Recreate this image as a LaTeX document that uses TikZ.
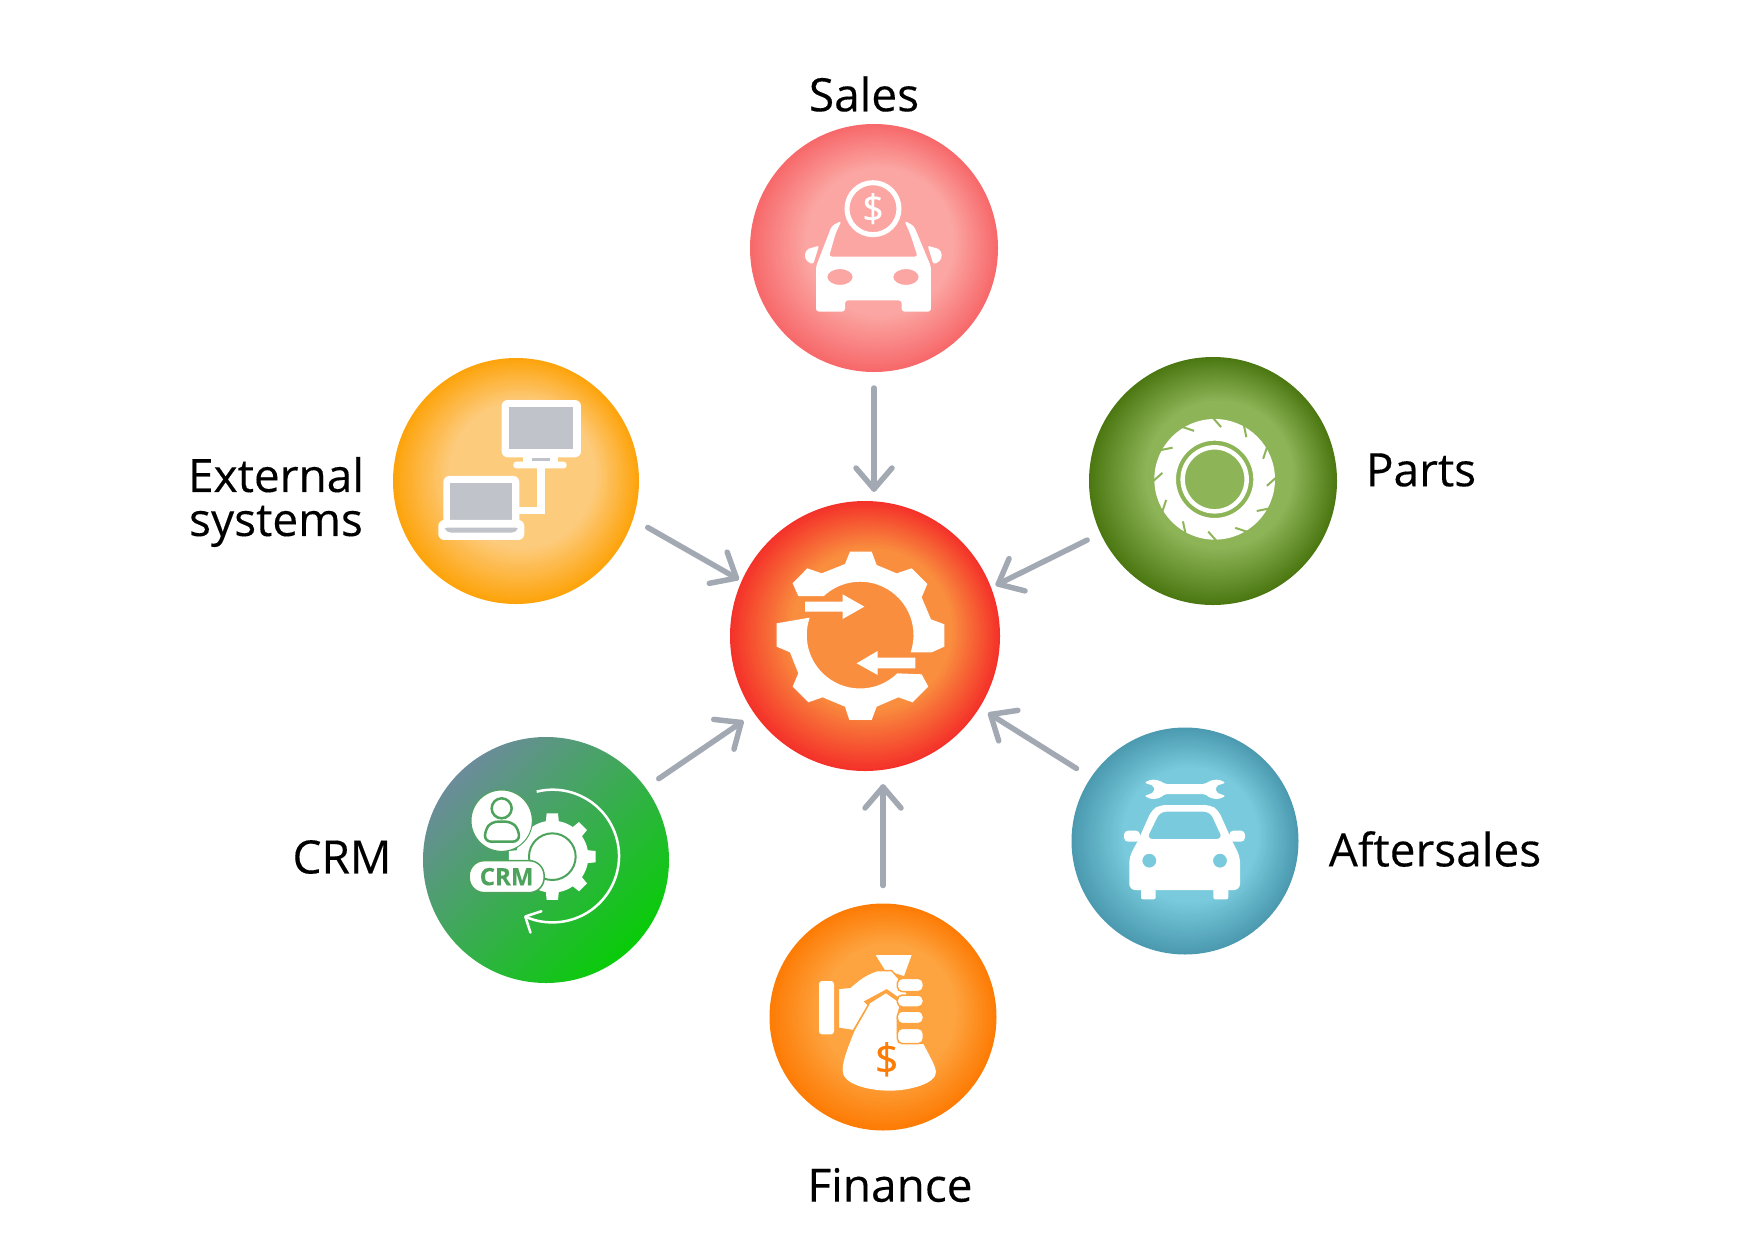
\documentclass[tikz,border=0pt]{standalone}
\usepackage{fontspec}
\setmainfont[FakeBold=0.25]{Open Sans}
\usepackage{tikz}
\usetikzlibrary{arrows.meta,calc}

\definecolor{hubin}{HTML}{F98E3E}
\definecolor{hubout}{HTML}{F4322A}
\definecolor{salesin}{HTML}{FBA6A2}
\definecolor{salesout}{HTML}{F7696B}
\definecolor{extin}{HTML}{FDCB7C}
\definecolor{extout}{HTML}{FDA40C}
\definecolor{partsin}{HTML}{8DB457}
\definecolor{partsout}{HTML}{4C7812}
\definecolor{afterin}{HTML}{79CADC}
\definecolor{afterout}{HTML}{4B9AB0}
\definecolor{finin}{HTML}{FDA33F}
\definecolor{finout}{HTML}{FD7C05}
\definecolor{crmtl}{HTML}{6B8C9A}
\definecolor{crmmid}{HTML}{4DA35C}
\definecolor{crmbr}{HTML}{08CC08}
\definecolor{flowgray}{HTML}{A3A9B3}
\definecolor{screengray}{HTML}{C0C3C9}

% node name, radius, inner colour, outer colour
\newcommand{\bubblerings}[4]{%
  \foreach \s in {96,92,...,0}
    \fill[#4!\s!#3] ($(#1)+({0.05*#2*(1-\s/100)},{-0.05*#2*(1-\s/100)})$) circle[radius={#2*(0.6+0.4*\s/100)}];
}

\pgfdeclarearrow{
  name=vbarb,
  parameters={\the\pgfarrowlength,\the\pgfarrowwidth},
  defaults={length=21pt,width=36pt},
  setup code={\pgfarrowssettipend{3pt}\pgfarrowssetlineend{0pt}\pgfarrowssavethe\pgfarrowlength\pgfarrowssavethe\pgfarrowwidth},
  drawing code={\pgfsetdash{}{0pt}\pgfsetroundcap\pgfsetroundjoin
    \pgfpathmoveto{\pgfqpoint{-\pgfarrowlength}{.5\pgfarrowwidth}}
    \pgfpathlineto{\pgfpointorigin}
    \pgfpathlineto{\pgfqpoint{-\pgfarrowlength}{-.5\pgfarrowwidth}}
    \pgfusepathqstroke}
}

\begin{document}
\begin{tikzpicture}[
  x=1pt,y=-1pt,
  bubble/.style={circle,inner sep=0pt,outer sep=0pt},
  flow/.style={-{vbarb},line width=5.5pt,line cap=round,color=flowgray},
  lab/.style={font=\fontsize{46}{44}\selectfont,text=black,align=center,inner sep=0pt},
  icon/.style={fill=white,draw=none},
  zoomed/.style={shift={#1},x=0.3333pt,y=-0.3333pt},
]
\useasboundingbox (0,0) rectangle (1748,1240);

% === CIRCLES ===
\node[bubble,minimum size=270pt,fill=hubout] (hub) at (865,636) {};
\node[bubble,minimum size=248pt,fill=salesout] (sales) at (874,248) {};
\node[bubble,minimum size=248pt,fill=partsout] (parts) at (1213,481) {};
\node[bubble,minimum size=227pt,fill=afterout] (after) at (1185,841) {};
\node[bubble,minimum size=227pt,fill=finout] (fin) at (883,1017) {};
\node[bubble,minimum size=246pt,top color=crmtl,middle color=crmmid,bottom color=crmbr,shading angle=45] (crm) at (546,860) {};
\node[bubble,minimum size=246pt,fill=extout] (ext) at (516,481) {};
\bubblerings{hub}{135}{hubin}{hubout}
\bubblerings{sales}{124}{salesin}{salesout}
\bubblerings{parts}{124}{partsin}{partsout}
\bubblerings{after}{113.5}{afterin}{afterout}
\bubblerings{fin}{113.5}{finin}{finout}
\bubblerings{ext}{123}{extin}{extout}

% === LABELS ===
\node[lab] (saleslab) at (864,94) {Sales};
\node[lab] (partslab) at (1421,470) {Parts};
\node[lab] (afterlab) at (1435,849) {Aftersales};
\node[lab] (finlab) at (890,1185) {Finance};
\node[lab] (crmlab) at (342,857) {CRM};
\node[lab] (extlab) at (276,502) {External\\systems};

% === ARROWS ===
\draw[flow,shorten <=16pt,shorten >=9pt] (sales.south) -- (sales.south |- hub.north);
\draw[flow,shorten <=15pt,shorten >=5pt] (parts.205) -- (hub.21);
\draw[flow,shorten <=17pt,shorten >=10pt] (after.146) -- (hub.-32);
\draw[flow,shorten <=18pt,shorten >=13pt] (fin.north) -- (fin.north |- hub.south);
\draw[flow,shorten <=16pt,shorten >=13pt] (crm.36) -- (hub.215);
\draw[flow,shorten <=17pt,shorten >=3pt] (ext.-18) -- (hub.156);

% === HUB ICON ===
\begin{scope}[zoomed={(730,490)}]
  \fill[icon] (205,318) -- (188,280) -- (232,235) -- (275,250) -- (345,222) -- (360,185) -- (425,185) -- (440,225) -- (500,250) -- (545,235) -- (592,282) -- (575,322) -- (603,388) -- (643,403) -- (643,470) -- (605,487) -- (542,487) arc[start angle=18.9,end angle=-133,radius=160] -- cycle;
  \fill[icon] (238.6,383) -- (140,400) -- (140,470) -- (180,487) -- (205,550) -- (188,590) -- (235,637) -- (278,622) -- (345,650) -- (358,690) -- (425,690) -- (440,650) -- (505,622) -- (548,637) -- (595,590) -- (575,553) -- (502,550) arc[start angle=45.7,end angle=198.9,radius=160] -- cycle;
  \fill[icon] (225,335) -- (338,335) -- (338,313) -- (403,350) -- (338,387) -- (338,365) -- (225,365) -- cycle;
  \fill[icon] (556,503) -- (443,503) -- (443,483) -- (380,520) -- (443,555) -- (443,535) -- (556,535) -- cycle;
\end{scope}

% === SALES ICON ===
\begin{scope}[zoomed={(750,120)}]
  \draw[white,line width=5pt] (369,266) circle[radius=78];
  \node[font=\fontsize{38}{38}\selectfont,text=white,inner sep=0pt] (salesdollar) at (369,266) {\$};
  \fill[icon,even odd rule,rounded corners=3pt] (275,302) -- (245,318) -- (198,440) -- (198,575) -- (285,575) -- (285,541) -- (455,541) -- (455,575) -- (543,575) -- (543,440) -- (492,318) -- (463,302) -- (480,340) -- (503,410) -- (237,410) -- (257,340) -- cycle
    (270,471) ellipse[x radius=38,y radius=24] (468,471) ellipse[x radius=38,y radius=24];
  \fill[icon,rounded corners=2pt] (163,410) -- (170,388) -- (207,377) -- (190,432) -- (175,428) -- cycle;
  \fill[icon,rounded corners=2pt] (577,410) -- (570,388) -- (533,377) -- (550,432) -- (565,428) -- cycle;
\end{scope}

% === EXTERNAL SYSTEMS ICON ===
\begin{scope}[zoomed={(390,350)}]
  \fill[icon,rounded corners=6pt] (335,150) rectangle (573,322);
  \fill[screengray] (357,171) rectangle (550,298);
  \fill[icon] (400,322) rectangle (505,340);
  \fill[screengray] (425,325) rectangle (480,333);
  \fill[icon,rounded corners=3pt] (370,335) rectangle (530,355);
  \fill[icon] (442,350) rectangle (465,491);
  \fill[icon] (380,470) rectangle (465,491);
  \fill[icon,rounded corners=6pt] (160,378) rectangle (388,530);
  \fill[screengray] (180,400) rectangle (367,510);
  \fill[icon,rounded corners=6pt] (145,510) rectangle (403,570);
  \fill[screengray,rounded corners=2pt] (165,533) -- (383,533) -- (383,540) -- (370,548) -- (178,548) -- (165,540) -- cycle;
\end{scope}

% === PARTS ICON ===
\begin{scope}[zoomed={(1140,410)}]
  \fill[icon,even odd rule] (224,208) circle[radius=181] (224,208) circle[radius=116];
  \draw[white,line width=4.5pt] (224,208) circle[radius=96];
  \foreach \a in {-92,-62,...,238}
    \draw[partsin,line width=2pt] ($(224,208)+(\a:186)$) -- ($(224,208)+(\a+9:158)$);
\end{scope}

% === AFTERSALES ICON ===
\begin{scope}[zoomed={(1110,760)}]
  \fill[icon,rounded corners=2pt] (103,68) -- (125,58) -- (150,62) -- (165,72) -- (285,72) -- (300,62) -- (325,58) -- (347,68) -- (318,78) -- (318,97) -- (347,108) -- (325,118) -- (300,114) -- (285,102) -- (165,102) -- (150,114) -- (125,118) -- (103,108) -- (132,97) -- (132,78) -- cycle;
  \fill[icon,even odd rule,rounded corners=6pt] (85,240) -- (125,150) -- (150,135) -- (300,135) -- (325,150) -- (365,240) -- (390,290) -- (390,390) -- (58,390) -- (58,290) -- cycle
    (110,237) -- (150,155) -- (300,155) -- (338,237) -- cycle
    (118,302) circle[radius=21] (330,302) circle[radius=21];
  \fill[icon,rounded corners=2pt] (93,385) rectangle (137,418);
  \fill[icon,rounded corners=2pt] (310,385) rectangle (355,418);
  \fill[icon,rounded corners=4pt] (42,212) rectangle (90,245);
  \fill[icon,rounded corners=4pt] (358,212) rectangle (405,245);
\end{scope}

% === FINANCE ICON ===
\begin{scope}[zoomed={(760,900)}]
  \fill[icon] (347,165) -- (455,165) -- (432,228) -- (375,210) -- cycle;
  \fill[icon] (330,310) -- (378,280) -- (420,310) -- (410,350) -- (410,400) -- (425,432) -- (490,432) .. controls (510,470) and (525,495) .. (528,515) .. controls (530,550) and (450,572) .. (390,572) .. controls (320,572) and (245,550) .. (248,510) .. controls (248,480) and (265,440) .. (285,390) -- cycle;
  \fill[icon,draw=finin,line width=1.5pt] (235,265) -- (270,262) .. controls (290,245) and (310,225) .. (350,212) -- (395,212) -- (425,245) -- (443,285) -- (430,305) -- (380,270) -- (315,305) -- (325,315) -- (280,392) -- (235,385) -- cycle;
  \foreach \y/\h in {235/40,285/36,333/38,385/46}
    \fill[icon,draw=finin,line width=1.5pt,rounded corners=5pt] (412,\y) rectangle (490,\y+\h);
  \fill[icon,rounded corners=3pt] (177,243) rectangle (222,403);
  \node[font=\fontsize{42}{42}\selectfont,text=finout,inner sep=0pt] (findollar) at (380,478) {\$};
\end{scope}

% === CRM ICON ===
\begin{scope}[zoomed={(420,740)}]
  \draw[white,line width=2.5pt,-{vbarb[length=12pt,width=24pt]}] (350,155) arc[start angle=-104,end angle=117,radius=199];
  \foreach \a in {0,45,...,315}
    \fill[icon,shift={(397,350)},rotate=\a] (100,-20) -- (130,-17) -- (130,17) -- (100,20) -- cycle;
  \fill[icon] (397,350) circle[radius=108];
  \draw[crmmid,line width=2pt] (397,350) circle[radius=70];
  \fill[icon,draw=crmmid,line width=1pt] (245,242) circle[radius=92];
  \draw[crmmid,line width=2.5pt] (245,205) circle[radius=30];
  \draw[crmmid,line width=2.5pt,rounded corners=6pt] (195,305) -- (195,270) -- (215,245) -- (275,245) -- (297,270) -- (297,305) -- cycle;
  \node[icon,draw=crmmid,line width=1.5pt,rounded corners=15pt,minimum width=75pt,minimum height=32pt,inner sep=0pt,text=crmmid,font=\fontsize{24}{24}\selectfont\bfseries] (crmpill) at (260,410) {CRM};
\end{scope}

\end{tikzpicture}
\end{document}
